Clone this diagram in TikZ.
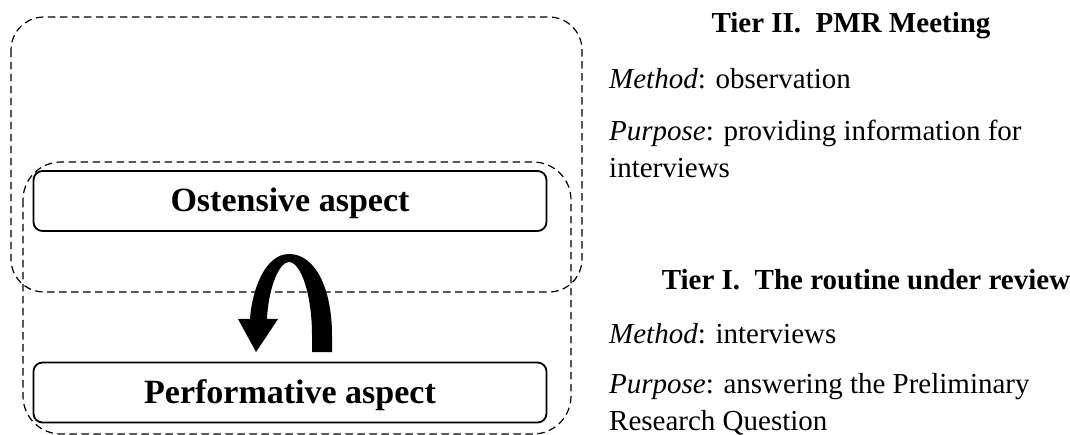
\documentclass[tikz,border=0pt]{standalone}
\usepackage{fontspec}
\setmainfont{Liberation Serif}
\begin{document}
\begin{tikzpicture}[x=1pt,y=-1pt,
  tierbox/.style={draw=black,line width=1.2pt,dash pattern=on 7.5pt off 4.5pt,rounded corners=#1},
  aspectbox/.style={draw=black,line width=1.8pt,rounded corners=9pt,minimum width=513pt,minimum height=60pt,inner sep=0pt,
    text height=22pt,text depth=0pt,font=\fontsize{34}{40}\selectfont\bfseries},
  heading/.style={anchor=base,inner sep=0pt,font=\fontsize{29}{35}\selectfont\bfseries},
  bodytext/.style={anchor=base west,inner sep=0pt,font=\fontsize{29}{37}\selectfont,align=left}]
\useasboundingbox (0,0) rectangle (1070,435);

% tier frames
\draw[tierbox=33pt] (11,17) rectangle (582,292);
\draw[tierbox=38pt] (23,162) rectangle (571,434);

% routine aspects
\node[aspectbox] (ost) at (290,201) {Ostensive aspect};
\node[aspectbox] (perf) at (290,392.5) {Performative aspect};

% curved feedback arrow between the aspects
\coordinate (tail) at (322,352);
\coordinate (tip) at (256,352);
\fill[black] (tail) ++(10,0) -- ++(0,-17)
  .. controls (332,290) and (316,254) .. (289,254)
  .. controls (265,254) and (252,290) .. (250,319)
  -- (238,319) -- (tip) -- (278,319) -- (267,319)
  .. controls (268,292) and (278,262) .. (289,262)
  .. controls (301,262) and (312,295) .. (312,335)
  -- (312,352) -- cycle;

% tier descriptions
\node[heading] (t2) at (851,33) {Tier II.\ \ PMR Meeting};
\node[bodytext] (t2m) at (609,89) {\textit{Method}: observation};
\node[bodytext,anchor=north west] (t2p) at (609,120) {\textit{Purpose}: providing information for\\interviews};

\node[heading] (t1) at (866,290) {Tier I.\ \ The routine under review};
\node[bodytext] (t1m) at (609,343) {\textit{Method}: interviews};
\node[bodytext,anchor=north west] (t1p) at (609,373) {\textit{Purpose}: answering the Preliminary\\Research Question};
\end{tikzpicture}
\end{document}
